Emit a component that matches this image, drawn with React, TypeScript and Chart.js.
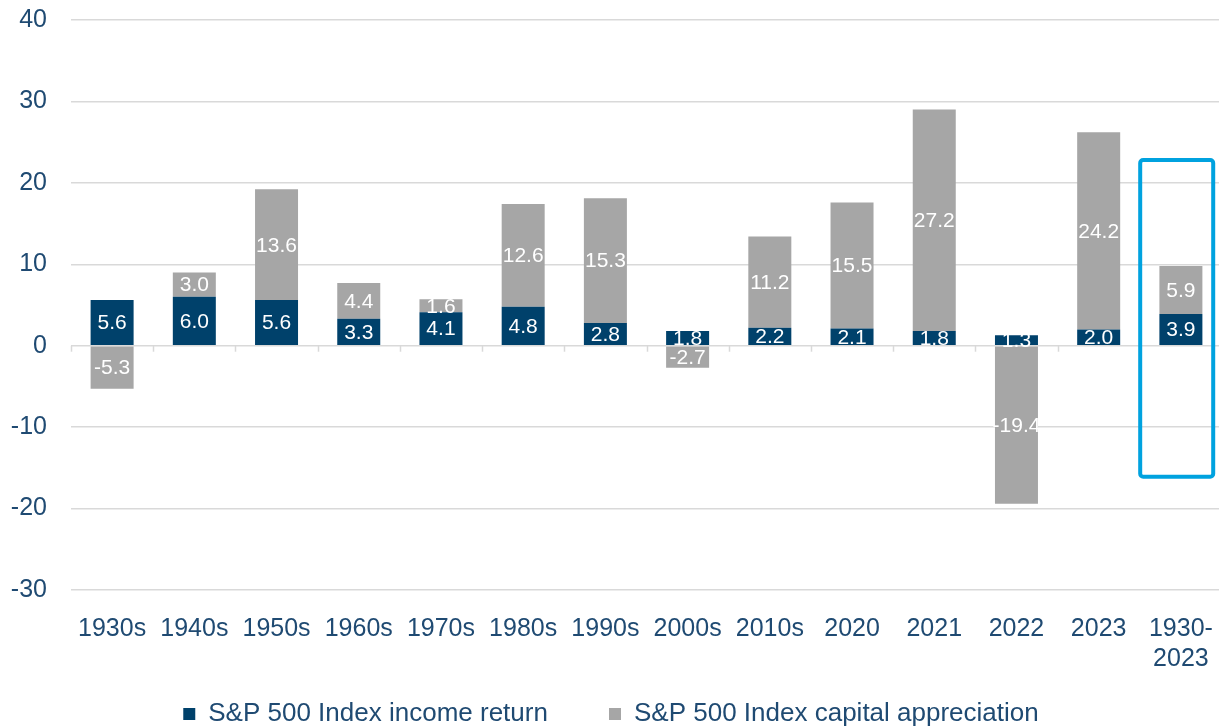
import React, { useEffect, useRef } from "react";
import { Chart, registerables } from "chart.js";

Chart.register(...registerables);

const categories: (string | string[])[] = [
  "1930s", "1940s", "1950s", "1960s", "1970s", "1980s", "1990s",
  "2000s", "2010s", "2020", "2021", "2022", "2023", ["1930-", "2023"],
];
const incomeReturn = [5.6, 6.0, 5.6, 3.3, 4.1, 4.8, 2.8, 1.8, 2.2, 2.1, 1.8, 1.3, 2.0, 3.9];
const capitalAppreciation = [-5.3, 3.0, 13.6, 4.4, 1.6, 12.6, 15.3, -2.7, 11.2, 15.5, 27.2, -19.4, 24.2, 5.9];
const seriesNames = ["S&P 500 Index income return", "S&P 500 Index capital appreciation"];
const yMin = -30;
const yMax = 40;
const yStep = 10;
const highlightIndex = 13;
const highlightTop = 22.8;
const highlightBottom = -16.1;

const FONT = '"Liberation Sans", Arial, sans-serif';
const NAVY = "#00416B";
const GRAY = "#A6A6A6";
const TEXT = "#1F4A72";
const GRID = "#D9D9D9";

const boundaryTicks = {
  id: "boundaryTicks",
  beforeDatasetsDraw(chart: any) {
    const x = chart.scales.x;
    const y = chart.scales.y;
    const n = chart.data.labels.length;
    const zero = y.getPixelForValue(0);
    const ctx = chart.ctx;
    ctx.save();
    ctx.strokeStyle = GRID;
    ctx.lineWidth = 1.5;
    for (let i = 0; i <= n; i++) {
      const px = Math.round(x.left + (i * x.width) / n) + 0.5;
      ctx.beginPath();
      ctx.moveTo(px, zero);
      ctx.lineTo(px, zero + 6);
      ctx.stroke();
    }
    ctx.restore();
  },
};

const dataLabels = {
  id: "dataLabels",
  afterDatasetsDraw(chart: any) {
    const ctx = chart.ctx;
    ctx.save();
    ctx.font = `21px ${FONT}`;
    ctx.textAlign = "center";
    ctx.textBaseline = "middle";
    ctx.fillStyle = "#FFFFFF";
    chart.data.datasets.forEach((ds: any, di: number) => {
      const meta = chart.getDatasetMeta(di);
      meta.data.forEach((el: any, i: number) => {
        const v = ds.data[i] as number;
        const { x, y, base } = el.getProps(["x", "y", "base"], true);
        ctx.fillText(v.toFixed(1), x, (y + base) / 2 + 1);
      });
    });
    ctx.restore();
  },
};

const highlightBox = {
  id: "highlightBox",
  afterDatasetsDraw(chart: any) {
    const x = chart.scales.x;
    const y = chart.scales.y;
    const w = x.width / chart.data.labels.length;
    const cx = x.getPixelForValue(highlightIndex);
    const left = cx - 0.495 * w;
    const right = cx + 0.393 * w;
    const top = y.getPixelForValue(highlightTop);
    const bottom = y.getPixelForValue(highlightBottom);
    const ctx = chart.ctx;
    ctx.save();
    ctx.strokeStyle = "#00A2DF";
    ctx.lineWidth = 4;
    ctx.beginPath();
    (ctx as any).roundRect(left, top, right - left, bottom - top, 3);
    ctx.stroke();
    ctx.restore();
  },
};

export default function App() {
  const ref = useRef<HTMLCanvasElement | null>(null);

  useEffect(() => {
    if (!ref.current) return;
    const chart = new Chart(ref.current, {
      type: "bar",
      data: {
        labels: categories as any,
        datasets: [
          {
            label: seriesNames[0],
            data: incomeReturn,
            backgroundColor: NAVY,
            barPercentage: 0.523,
            categoryPercentage: 1,
          },
          {
            label: seriesNames[1],
            data: capitalAppreciation,
            backgroundColor: GRAY,
            barPercentage: 0.523,
            categoryPercentage: 1,
          },
        ],
      },
      options: {
        responsive: false,
        animation: false,
        layout: { padding: { top: 20, left: 0, right: 0, bottom: 0 } },
        plugins: {
          tooltip: { enabled: false },
          legend: {
            position: "bottom",
            labels: {
              boxWidth: 12,
              boxHeight: 12,
              padding: 25,
              color: TEXT,
              font: { family: FONT, size: 26 },
              generateLabels(chart: any) {
                const items = Chart.defaults.plugins.legend.labels.generateLabels(chart);
                return items.map((it: any, i: number) => ({
                  ...it,
                  lineWidth: 0,
                  text: i === 0 ? it.text + "     " : it.text,
                }));
              },
            },
          },
        },
        scales: {
          x: {
            stacked: true,
            grid: { display: false, drawTicks: false },
            border: { display: false },
            ticks: {
              color: TEXT,
              font: { family: FONT, size: 25 },
              padding: 24,
              maxRotation: 0,
              autoSkip: false,
            },
            afterFit(scale: any) {
              scale.height = 86;
              scale.paddingLeft = 0;
              scale.paddingRight = 0;
            },
          },
          y: {
            stacked: true,
            min: yMin,
            max: yMax,
            grid: { color: GRID, lineWidth: 1.5, drawTicks: false },
            border: { display: false },
            ticks: {
              stepSize: yStep,
              color: TEXT,
              font: { family: FONT, size: 25 },
              padding: 24,
            },
            afterFit(scale: any) {
              scale.width = 71;
              scale.paddingTop = 0;
              scale.paddingBottom = 0;
            },
          },
        },
      },
      plugins: [boundaryTicks, dataLabels, highlightBox],
    });
    return () => chart.destroy();
  }, []);

  return (
    <div
      style={{
        position: "fixed",
        left: 0,
        top: 0,
        width: 1219,
        height: 726,
        overflow: "hidden",
        background: "#fff",
      }}
    >
      <canvas ref={ref} width={1222} height={737} style={{ display: "block" }} />
    </div>
  );
}
